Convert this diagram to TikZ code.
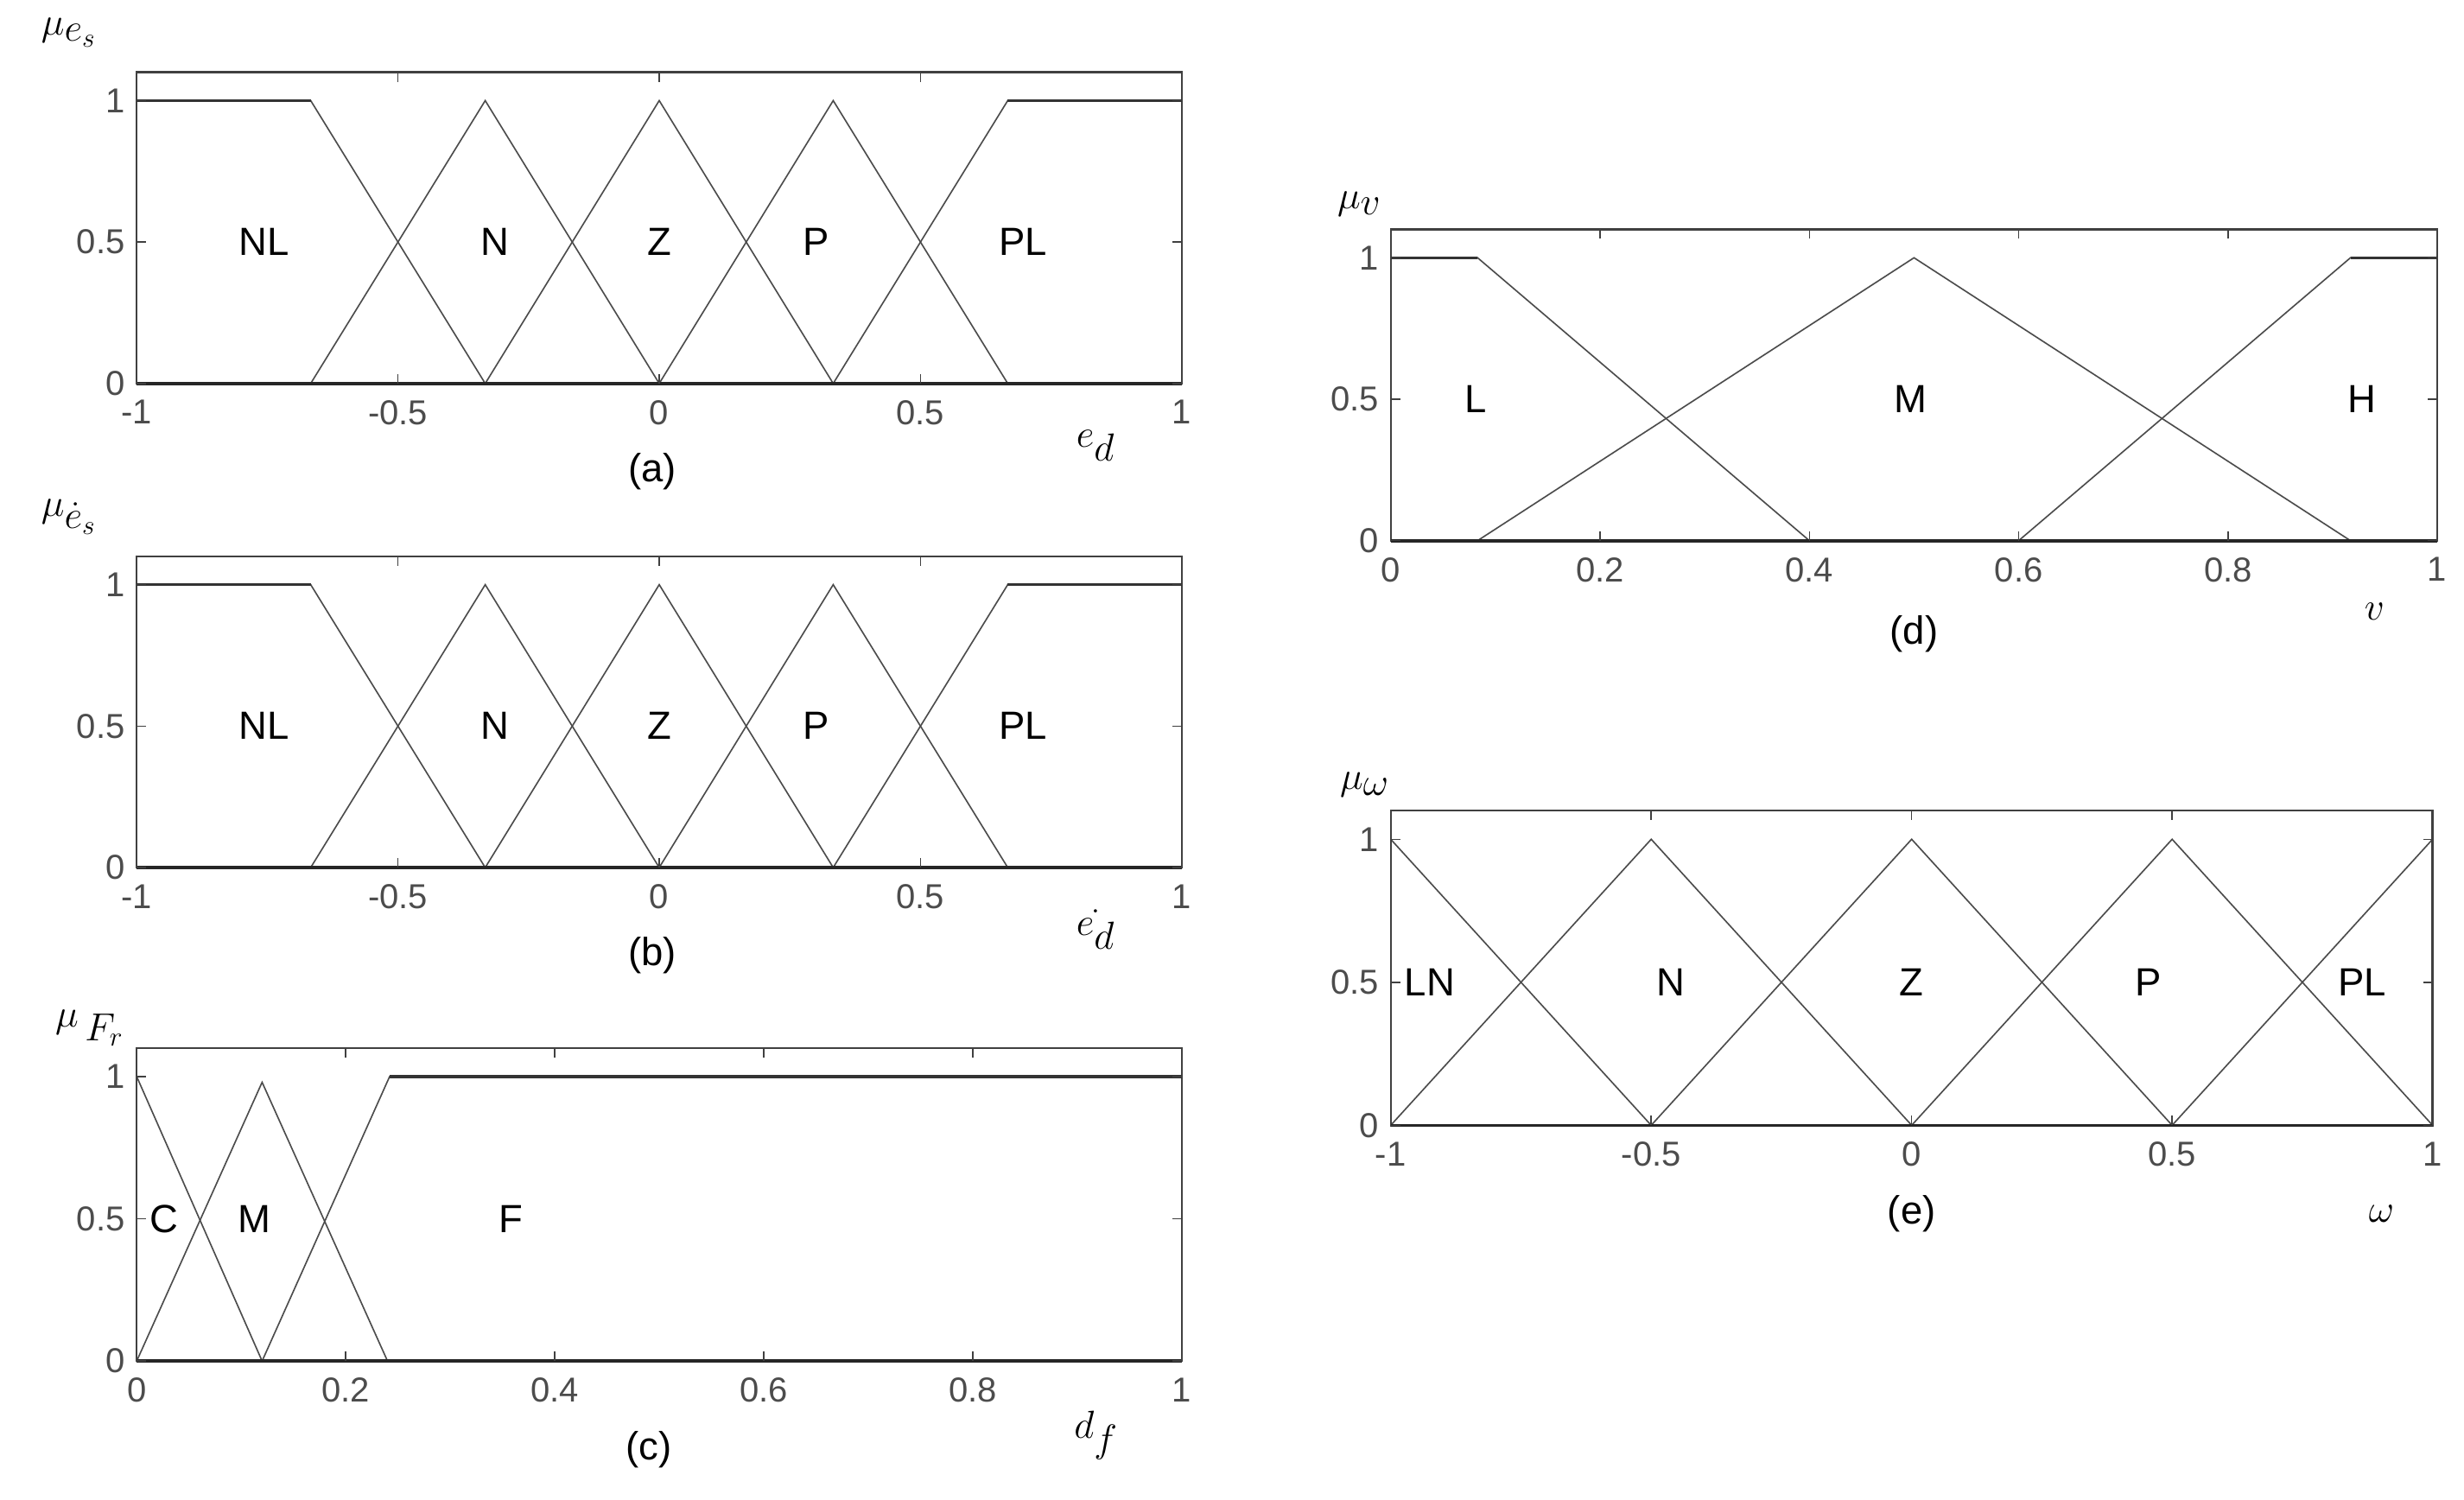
\documentclass[tikz,border=0pt]{standalone}
\usepackage{fontspec}
\setmainfont{Liberation Sans}
\begin{document}
\begin{tikzpicture}[x=1pt,y=-1pt,
  fr/.style={draw=black!75,line width=1.3pt},
  mf/.style={draw=black!70,line width=0.9pt},
  tk/.style={font=\fontsize{22}{24}\selectfont,text=black!70},
  lab/.style={font=\fontsize{25}{28}\selectfont},
  ax/.style={font=\fontsize{35}{37}\selectfont}]
\useasboundingbox[fill=white] (0,0) rectangle (1568,954);
% ---------- (a) and (b)
\foreach \oy/\cap/\xl/\ml in {244/(a)/{$e_d$}/{$\mu_{e_s}$},552/(b)/{$\dot{e_d}$}/{$\mu_{\dot e_s}$}}{
\begin{scope}[shift={(419.5,\oy)},x=332.5pt,y=180pt]
 \draw[mf] (-1,1)--(-0.667,1)--(-0.333,0);
 \draw[mf] (-0.667,0)--(-0.333,1)--(0,0);
 \draw[mf] (-0.333,0)--(0,1)--(0.333,0);
 \draw[mf] (0,0)--(0.333,1)--(0.667,0);
 \draw[mf] (0.333,0)--(0.667,1)--(1,1);
 \draw[fr] (-1,0) rectangle (1,1.1);
 \draw[line width=2pt,black!85] (-1,0)--(1,0);
 \draw[line width=1.8pt,black!80] (-1,1)--(-0.667,1) (0.667,1)--(1,1);
 \foreach \t/\s in {-1/-1,-0.5/-0.5,0/0,0.5/0.5,1/1}{
   \draw[fr,line width=0.8pt] (\t,0)--++(0,6pt) (\t,1.1)--++(0,-6pt);
   \node[tk,anchor=north] (xt) at (\t,-0.04) {\s};}
 \foreach \t/\s in {0/0,0.5/0.5,1/1}{
   \draw[fr,line width=0.8pt] (-1,\t)--++(6pt,0) (1,\t)--++(-6pt,0);
   \node[tk,anchor=east] (yt) at (-1.012,\t) {\s};}
 \node[lab] (l1) at (-0.756,0.5) {NL};
 \node[lab] (l2) at (-0.314,0.5) {N};
 \node[lab] (l3) at (0,0.5) {Z};
 \node[lab] (l4) at (0.30,0.5) {P};
 \node[lab] (l5) at (0.696,0.5) {PL};
 \node[ax] (xl) at (0.835,-0.22) {\xl};
 \node[lab] (cp) at (-0.013,-0.31) {\cap};
 \node[ax] (ml) at (-1.13,1.24) {\ml};
\end{scope}}
% ---------- (c)
\begin{scope}[shift={(87,866)},x=665pt,y=181pt]
 \draw[mf] (0,1)--(0.12,0);
 \draw[mf] (0,0)--(0.12,0.98)--(0.24,0);
 \draw[mf] (0.12,0)--(0.242,1)--(1,1);
 \draw[fr] (0,0) rectangle (1,1.1);
 \draw[line width=2pt,black!85] (0,0)--(1,0);
 \draw[line width=1.8pt,black!80] (0.242,1)--(1,1);
 \foreach \t in {0,0.2,0.4,0.6,0.8,1}{
   \draw[fr,line width=0.8pt] (\t,0)--++(0,6pt) (\t,1.1)--++(0,-6pt);
   \node[tk,anchor=north] (xt) at (\t,-0.04) {\t};}
 \foreach \t/\s in {0/0,0.5/0.5,1/1}{
   \draw[fr,line width=0.8pt] (0,\t)--++(6pt,0) (1,\t)--++(-6pt,0);
   \node[tk,anchor=east] (yt) at (-0.006,\t) {\s};}
 \node[lab] (c1) at (0.026,0.5) {C};
 \node[lab] (c2) at (0.113,0.5) {M};
 \node[lab] (c3) at (0.358,0.5) {F};
 \node[ax] (xl) at (0.918,-0.26) {$d_f$};
 \node[lab] (cp) at (0.49,-0.31) {(c)};
 \node[ax] (ml) at (-0.045,1.17) {$\mu_{\,F_r}$};
\end{scope}
% ---------- (d)
\begin{scope}[shift={(885,344)},x=666pt,y=180pt]
 \draw[mf] (0,1)--(0.083,1)--(0.4,0);
 \draw[mf] (0.083,0)--(0.5,1)--(0.917,0);
 \draw[mf] (0.6,0)--(0.917,1)--(1,1);
 \draw[fr] (0,0) rectangle (1,1.1);
 \draw[line width=2pt,black!85] (0,0)--(1,0);
 \draw[line width=1.8pt,black!80] (0,1)--(0.083,1) (0.917,1)--(1,1);
 \foreach \t in {0,0.2,0.4,0.6,0.8,1}{
   \draw[fr,line width=0.8pt] (\t,0)--++(0,6pt) (\t,1.1)--++(0,-6pt);
   \node[tk,anchor=north] (xt) at (\t,-0.04) {\t};}
 \foreach \t/\s in {0/0,0.5/0.5,1/1}{
   \draw[fr,line width=0.8pt] (0,\t)--++(6pt,0) (1,\t)--++(-6pt,0);
   \node[tk,anchor=east] (yt) at (-0.006,\t) {\s};}
 \node[lab] (d1) at (0.081,0.5) {L};
 \node[lab] (d2) at (0.497,0.5) {M};
 \node[lab] (d3) at (0.928,0.5) {H};
 \node[ax] (xl) at (0.94,-0.25) {$v$};
 \node[lab] (cp) at (0.5,-0.33) {(d)};
 \node[ax] (ml) at (-0.03,1.19) {$\mu_v$};
\end{scope}
% ---------- (e)
\begin{scope}[shift={(1216.5,716)},x=331.5pt,y=182pt]
 \draw[mf] (-1,1)--(-0.5,0)--(0,1)--(0.5,0)--(1,1);
 \draw[mf] (-1,0)--(-0.5,1)--(0,0)--(0.5,1)--(1,0);
 \draw[fr] (-1,0) rectangle (1,1.1);
 \draw[line width=2pt,black!85] (-1,0)--(1,0);
 \foreach \t/\s in {-1/-1,-0.5/-0.5,0/0,0.5/0.5,1/1}{
   \draw[fr,line width=0.8pt] (\t,0)--++(0,6pt) (\t,1.1)--++(0,-6pt);
   \node[tk,anchor=north] (xt) at (\t,-0.04) {\s};}
 \foreach \t/\s in {0/0,0.5/0.5,1/1}{
   \draw[fr,line width=0.8pt] (-1,\t)--++(6pt,0) (1,\t)--++(-6pt,0);
   \node[tk,anchor=east] (yt) at (-1.012,\t) {\s};}
 \node[lab] (e1) at (-0.925,0.5) {LN};
 \node[lab] (e2) at (-0.462,0.5) {N};
 \node[lab] (e3) at (0,0.5) {Z};
 \node[lab] (e4) at (0.454,0.5) {P};
 \node[lab] (e5) at (0.865,0.5) {PL};
 \node[ax] (xl) at (0.902,-0.31) {$\omega$};
 \node[lab] (cp) at (0,-0.31) {(e)};
 \node[ax] (ml) at (-1.05,1.19) {$\mu_\omega$};
\end{scope}
\end{tikzpicture}
\end{document}
